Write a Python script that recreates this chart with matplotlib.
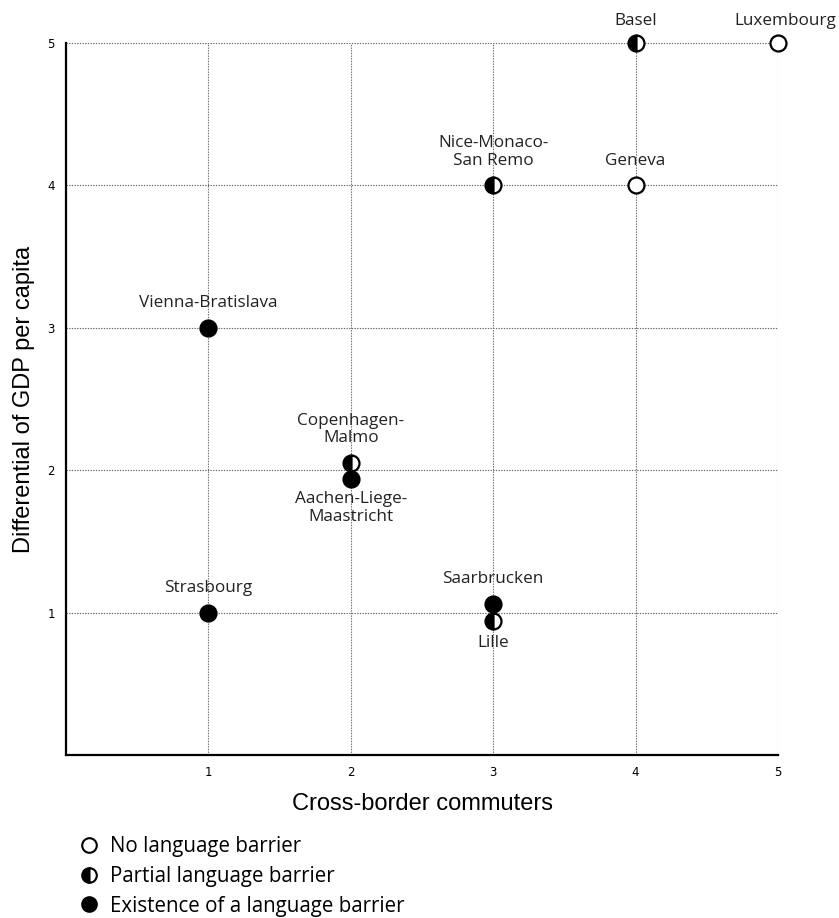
import matplotlib.pyplot as plt
from matplotlib.lines import Line2D

# data
cities = ["Luxembourg", "Basel", "Geneva", "Nice-Monaco-\nSan Remo", "Vienna-Bratislava",
          "Copenhagen-\nMalmo", "Aachen-Liege-\nMaastricht", "Strasbourg", "Saarbrucken", "Lille"]
commuters = [5, 4, 4, 3, 1, 2, 2, 1, 3, 3]
gdp_diff = [5, 5, 4, 4, 3, 2.05, 1.94, 1.0, 1.06, 0.94]
barrier = ["none", "partial", "none", "partial", "full", "partial", "full", "full", "full", "partial"]

legend_labels = ["No language barrier", "Partial language barrier", "Existence of a language barrier"]

# label placement (points offset from marker)
label_pos = {"Luxembourg": (5, 10, "bottom"), "Basel": (0, 10, "bottom"),
             "Aachen-Liege-\nMaastricht": (0, -9, "top"), "Lille": (0, -10, "top")}

label_font = "Open Sans"

fig = plt.figure(figsize=(8.39, 9.18), dpi=100)
ax = fig.add_axes([0.0787, 0.1776, 0.8486, 0.7756])

style = {
    "none": dict(marker="o", markerfacecolor="white", fillstyle="full"),
    "partial": dict(marker="o", markerfacecolor="black", markerfacecoloralt="white", fillstyle="left"),
    "full": dict(marker="o", markerfacecolor="black", fillstyle="full"),
}

for c, x, y, b in zip(cities, commuters, gdp_diff, barrier):
    ax.plot([x], [y], linestyle="none", markersize=11.5, markeredgecolor="black",
            markeredgewidth=1.6, clip_on=False, zorder=5, **style[b])
    dx, dy, va = label_pos.get(c, (0, 12, "bottom"))
    ax.annotate(c, (x, y), xytext=(dx, dy), textcoords="offset points", ha="center", va=va,
                fontsize=12.3, family=label_font, linespacing=1.12, color="#222222",
                annotation_clip=False)

ax.set_xlim(0, 5)
ax.set_ylim(0, 5)
ax.set_xticks([1, 2, 3, 4, 5])
ax.set_yticks([1, 2, 3, 4, 5])
ax.tick_params(length=0, labelsize=8.5, pad=8)
ax.grid(True, linestyle=(0, (1.2, 1.2)), color="#666666", linewidth=0.8)
ax.set_axisbelow(True)

for s in ["top", "right"]:
    ax.spines[s].set_visible(False)
for s in ["left", "bottom"]:
    ax.spines[s].set_linewidth(1.6)

ax.set_xlabel("Cross-border commuters", fontsize=17, family="Liberation Sans", labelpad=10)
ax.set_ylabel("Differential of GDP per capita", fontsize=17, family="Liberation Sans", labelpad=9)

handles = [Line2D([], [], linestyle="none", markersize=10.5, markeredgecolor="black",
                  markeredgewidth=1.5, **style[k]) for k in ["none", "partial", "full"]]
fig.legend(handles, legend_labels, loc="upper left", bbox_to_anchor=(0.084, 0.098),
           frameon=False, handletextpad=0.5, labelspacing=0.42, borderaxespad=0,
           handlelength=1.0, prop={"family": label_font, "size": 14.8})

fig.savefig("out.png", dpi=100)
